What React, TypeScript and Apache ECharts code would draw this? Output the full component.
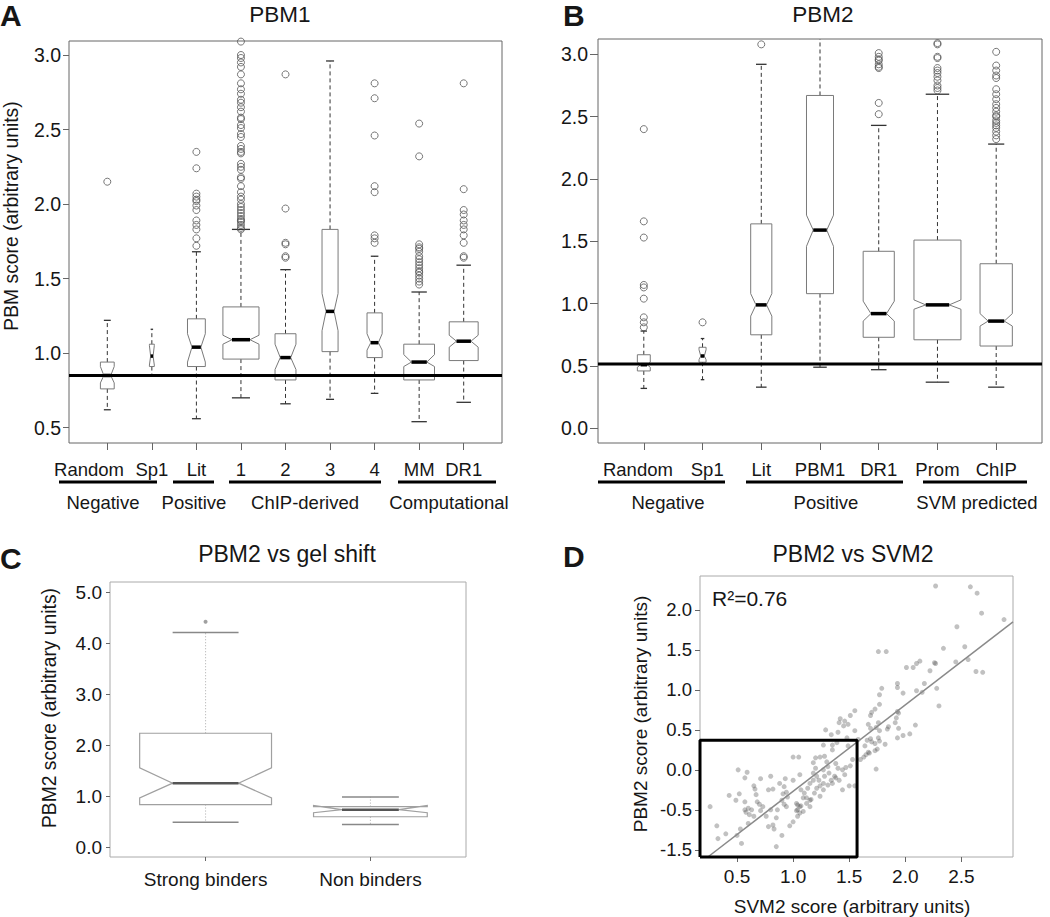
import React, { useEffect, useRef } from 'react';
import * as echarts from 'echarts';

const FONT = '"Liberation Sans", Arial, Helvetica, sans-serif';
const INK = '#161616';

// ---------- Panel A (PBM1) ----------
const catsA = ['Random', 'Sp1', 'Lit', '1', '2', '3', '4', 'MM', 'DR1'];
const labelPosA = [0.59, 2, 3, 4, 5, 6, 7, 8, 9];
const lowerA = [0.62, 0.85, 0.56, 0.70, 0.66, 0.69, 0.73, 0.54, 0.67];
const q1A = [0.76, 0.91, 0.91, 0.96, 0.82, 1.01, 0.97, 0.82, 0.95];
const notchLoA = [0.80, 0.92, 0.94, 1.06, 0.89, 1.15, 1.02, 0.91, 1.04];
const medA = [0.85, 0.98, 1.04, 1.09, 0.97, 1.28, 1.07, 0.94, 1.08];
const notchHiA = [0.91, 1.05, 1.13, 1.12, 1.06, 1.40, 1.13, 0.99, 1.12];
const q3A = [0.94, 1.06, 1.23, 1.31, 1.13, 1.83, 1.27, 1.06, 1.21];
const upperA = [1.22, 1.16, 1.68, 1.83, 1.56, 2.96, 1.65, 1.41, 1.59];
const boxWidthA = [0.31, 0.11, 0.40, 0.81, 0.47, 0.36, 0.34, 0.69, 0.65];
const outliersA = [
  [2.15],
  [],
  [2.35, 2.24, 2.07, 2.05, 2.03, 2.02, 1.99, 1.96, 1.89, 1.86, 1.83, 1.77, 1.72],
  [3.09, 3.0, 2.98, 2.95, 2.92, 2.87, 2.81, 2.77, 2.74, 2.7, 2.68, 2.65, 2.62, 2.58, 2.57, 2.53, 2.51, 2.47, 2.45, 2.39, 2.37, 2.35, 2.34, 2.27, 2.25, 2.23, 2.18, 2.17, 2.12, 2.08, 2.05, 2.03, 2.0, 1.98, 1.96, 1.94, 1.92, 1.9, 1.89, 1.88, 1.86, 1.84, 1.83],
  [2.87, 1.97, 1.74, 1.73, 1.65, 1.64],
  [],
  [2.81, 2.71, 2.46, 2.12, 2.08, 1.79, 1.77, 1.74],
  [2.54, 2.32, 1.73, 1.71, 1.7, 1.68, 1.65, 1.63, 1.61, 1.59, 1.57, 1.55, 1.54, 1.52, 1.5, 1.48, 1.46],
  [2.81, 2.1, 1.96, 1.93, 1.89, 1.86, 1.83, 1.79, 1.74, 1.65, 1.64],
];
const thresholdA = 0.85;
const yTicksA = [0.5, 1.0, 1.5, 2.0, 2.5, 3.0];

// ---------- Panel B (PBM2) ----------
const catsB = ['Random', 'Sp1', 'Lit', 'PBM1', 'DR1', 'Prom', 'ChIP'];
const labelPosB = [0.9, 2.08, 3, 4, 5, 6, 7];
const lowerB = [0.32, 0.39, 0.33, 0.49, 0.47, 0.37, 0.33];
const q1B = [0.46, 0.53, 0.75, 1.08, 0.73, 0.71, 0.66];
const notchLoB = [0.49, 0.55, 0.9, 1.46, 0.86, 0.955, 0.82];
const medB = [0.51, 0.58, 0.99, 1.59, 0.92, 0.99, 0.86];
const notchHiB = [0.53, 0.63, 1.08, 1.71, 1.02, 1.03, 0.92];
const q3B = [0.59, 0.65, 1.64, 2.67, 1.42, 1.51, 1.32];
const upperB = [0.78, 0.72, 2.92, 3.3, 2.43, 2.68, 2.28];
const boxWidthB = [0.22, 0.12, 0.36, 0.46, 0.53, 0.8, 0.55];
const outliersB = [
  [2.4, 1.66, 1.53, 1.15, 1.13, 1.04, 0.89, 0.85, 0.81],
  [0.85],
  [3.08],
  [],
  [3.01, 2.98, 2.96, 2.95, 2.92, 2.9, 2.89, 2.61, 2.52],
  [3.09, 3.08, 2.98, 2.97, 2.89, 2.87, 2.85, 2.82, 2.79, 2.75, 2.73, 2.71],
  [3.02, 2.91, 2.87, 2.83, 2.81, 2.72, 2.68, 2.64, 2.6, 2.57, 2.54, 2.51, 2.5, 2.47, 2.45, 2.43, 2.41, 2.38, 2.35, 2.32],
];
const thresholdB = 0.515;
const yTicksB = [0.0, 0.5, 1.0, 1.5, 2.0, 2.5, 3.0];

// ---------- Panel C (PBM2 vs gel shift) ----------
const catsC = ['Strong binders', 'Non binders'];
const labelPosC = [1, 2];
const lowerC = [0.49, 0.45];
const q1C = [0.84, 0.6];
const notchLoC = [0.97, 0.68];
const medC = [1.26, 0.74];
const notchHiC = [1.56, 0.82];
const q3C = [2.24, 0.8];
const upperC = [4.22, 0.99];
const boxWidthC = [0.8, 0.69];
const outliersC = [[4.43], []];
const yTicksC = [0, 1, 2, 3, 4, 5];

// ---------- Panel D (PBM2 vs SVM2) ----------
const svm2 = [
  2.27, 2.58, 2.64, 2.68, 2.88, 2.46, 2.34, 2.53, 1.76, 1.83, 2.01, 2.07, 2.10, 2.13, 2.26, 2.27, 2.22, 2.45, 2.56, 2.63,
  2.69, 2.30, 2.17, 2.28, 2.10, 2.15, 1.98, 1.93, 1.93, 1.79, 1.77, 1.77, 1.73, 1.70, 1.69, 1.93, 1.94, 1.92, 1.91, 2.09,
  1.85, 1.84, 1.94, 1.76, 1.74, 1.77, 1.67, 1.69, 1.55, 1.51, 1.46, 1.42, 1.41, 1.49, 1.45, 1.55, 1.58, 1.66, 1.69, 1.70,
  1.73, 1.76, 1.77, 1.93, 1.98, 2.04, 1.82, 1.75, 1.73, 1.67, 1.64, 1.48, 1.49, 1.40, 1.39, 1.74, 1.60, 1.63, 1.65, 1.68,
  0.26, 0.32, 0.33, 0.40, 0.50, 0.54, 0.53, 0.60, 0.51, 0.59, 0.57, 0.65, 0.66, 0.43, 0.52, 0.49, 0.57, 0.60, 0.63, 0.61,
  0.57, 0.58, 0.67, 0.68, 0.70, 0.73, 0.71, 0.65, 0.71, 0.76, 0.78, 0.78, 0.80, 0.82, 0.88, 0.92, 0.93, 0.94, 0.91, 0.95,
  0.86, 0.85, 0.82, 0.83, 0.85, 0.90, 1.00, 1.00, 1.05, 1.06, 1.07, 1.09, 1.03, 1.04, 1.06, 1.07, 1.03, 1.09, 1.04, 1.00,
  0.97, 1.12, 1.15, 1.16, 1.18, 1.20, 1.23, 1.21, 1.19, 1.24, 1.27, 1.28, 1.18, 1.20, 1.24, 1.28, 1.30, 1.31, 1.27, 1.27,
  1.29, 1.34, 1.35, 1.38, 1.40, 1.32, 1.34, 1.35, 1.38, 1.41, 1.44, 1.46, 1.47, 1.51, 1.53, 1.44, 1.50, 1.55, 1.35, 1.31,
  1.24, 1.21, 1.18, 1.15, 1.13, 1.10, 1.12, 1.37, 1.27, 1.06, 1.04, 1.15, 0.80, 0.90, 0.92, 0.94,
];
const pbm2 = [
  2.30, 2.29, 2.21, 1.96, 1.88, 1.79, 1.52, 1.54, 1.48, 1.48, 1.28, 1.28, 1.33, 1.36, 1.34, 1.33, 1.24, 1.35, 1.38, 1.23,
  1.22, 0.80, 1.08, 1.02, 0.99, 0.97, 0.96, 1.08, 1.03, 1.02, 0.94, 0.82, 0.76, 0.72, 0.68, 0.73, 0.71, 0.65, 0.59, 0.56,
  0.54, 0.51, 0.52, 0.59, 0.53, 0.49, 0.57, 0.52, 0.74, 0.68, 0.61, 0.64, 0.59, 0.57, 0.55, 0.49, 0.38, 0.37, 0.39, 0.35,
  0.33, 0.40, 0.36, 0.40, 0.43, 0.45, 0.32, 0.26, 0.24, 0.22, 0.30, 0.40, 0.30, 0.47, 0.34, 0.01, 0.13, 0.16, 0.19, 0.21,
  -0.46, -0.70, -0.86, -0.80, -0.82, -0.92, -0.74, -0.67, 0.00, -0.03, -0.10, -0.20, -0.24, -0.32, -0.30, -0.38, -0.40, -0.48, -0.50, -0.56,
  -0.50, -0.53, -0.31, -0.40, -0.43, -0.46, -0.51, -0.58, -0.11, -0.58, -0.71, -0.25, -0.08, -0.24, -0.17, -0.21, -0.11, -0.28, -0.30, -0.34,
  -0.50, -0.60, -0.69, -0.74, -0.96, -0.82, -0.13, 0.16, 0.16, -0.06, -0.25, -0.35, -0.42, -0.44, -0.46, -0.45, -0.51, -0.52, -0.58, -0.65,
  -0.70, -0.42, -0.38, -0.37, -0.04, 0.02, -0.13, -0.23, -0.29, -0.33, -0.17, -0.08, 0.09, 0.15, 0.16, 0.17, 0.10, 0.04, 0.00, 0.31,
  0.50, 0.44, 0.25, 0.08, 0.02, -0.04, -0.13, -0.17, -0.10, -0.13, 0.00, -0.06, 0.03, 0.05, 0.13, -0.25, -0.20, -0.20, 0.31, -0.19,
  -0.20, -0.08, -0.13, -0.17, -0.23, -0.29, -0.35, -0.08, -0.25, -0.54, -0.50, -0.46, -0.50, -0.38, -0.43, -0.46,
];
const regLineX = [0.24, 2.96];
const regLineY = [-1.09, 1.85];
const zoomBoxX = [0.17, 1.57];
const zoomBoxY = [-1.09, 0.37];
const xTicksD = [0.5, 1.0, 1.5, 2.0, 2.5];
const yTicksD = [-1.0, -0.5, 0.0, 0.5, 1.0, 1.5, 2.0];
const yTickLabelsD = ['-1.5', '-0.5', '0.0', '0.5', '1.0', '1.5', '2.0'];

// ---------- layout ----------
const G = {
  A: { left: 69, top: 41, width: 433, height: 402, xmin: 0.14, xmax: 9.86, ymin: 0.397, ymax: 3.094 },
  B: { left: 598, top: 39, width: 444, height: 404, xmin: 0.22, xmax: 7.78, ymin: -0.118, ymax: 3.123 },
  C: { left: 110, top: 582, width: 356, height: 275, xmin: 0.42, xmax: 2.58, ymin: -0.19, ymax: 5.21 },
  D: { left: 700, top: 576, width: 313, height: 281, xmin: 0.17, xmax: 2.96, ymin: -1.09, ymax: 2.425 },
};

const styleAB = {
  box: '#7a7a7a', boxWidth: 1, median: '#000', medianWidth: 3.5,
  whisker: '#333', whiskerWidth: 1, dash: [4, 3], cap: '#333', capWidth: 1.3,
};
const styleC = {
  box: '#a0a0a0', boxWidth: 1.2, median: '#555', medianWidth: 2.5,
  whisker: '#aaa', whiskerWidth: 1, dash: [1, 2], cap: '#888', capWidth: 1.5,
};

function boxRender(sty: any) {
  return (params: any, api: any) => {
    const x = api.value(0);
    const lo = api.value(1), q1 = api.value(2), nlo = api.value(3), med = api.value(4);
    const nhi = api.value(5), q3 = api.value(6), hi = api.value(7), w = api.value(8);
    const Y = (v: number) => api.coord([x, v])[1];
    const xl = api.coord([x - w / 2, q1])[0];
    const xr = api.coord([x + w / 2, q1])[0];
    const xc = (xl + xr) / 2;
    const nw = (xr - xl) / 4;
    const cap = (xr - xl) / 4;
    const pts = [
      [xl, Y(q1)], [xl, Y(nlo)], [xl + nw, Y(med)], [xl, Y(nhi)], [xl, Y(q3)],
      [xr, Y(q3)], [xr, Y(nhi)], [xr - nw, Y(med)], [xr, Y(nlo)], [xr, Y(q1)],
    ];
    const wStyle = { stroke: sty.whisker, lineWidth: sty.whiskerWidth, lineDash: sty.dash, fill: null };
    const cStyle = { stroke: sty.cap, lineWidth: sty.capWidth, fill: null };
    return {
      type: 'group',
      children: [
        { type: 'line', shape: { x1: xc, y1: Y(q3), x2: xc, y2: Y(hi) }, style: wStyle },
        { type: 'line', shape: { x1: xc, y1: Y(q1), x2: xc, y2: Y(lo) }, style: wStyle },
        { type: 'line', shape: { x1: xc - cap, y1: Y(hi), x2: xc + cap, y2: Y(hi) }, style: cStyle },
        { type: 'line', shape: { x1: xc - cap, y1: Y(lo), x2: xc + cap, y2: Y(lo) }, style: cStyle },
        { type: 'polygon', shape: { points: pts }, style: { fill: 'none', stroke: sty.box, lineWidth: sty.boxWidth } },
        { type: 'line', shape: { x1: xl + nw, y1: Y(med), x2: xr - nw, y2: Y(med) }, style: { stroke: sty.median, lineWidth: sty.medianWidth } },
      ],
    };
  };
}

function boxSeries(idx: number, cats: string[], lo: number[], q1: number[], nlo: number[], med: number[], nhi: number[], q3: number[], hi: number[], w: number[], sty: any) {
  return {
    type: 'custom',
    xAxisIndex: idx,
    yAxisIndex: idx,
    clip: true,
    z: 3,
    encode: { x: 0, y: 4 },
    data: cats.map((_, i) => [i + 1, lo[i], q1[i], nlo[i], med[i], nhi[i], q3[i], hi[i], w[i]]),
    renderItem: boxRender(sty),
  };
}

function outlierSeries(idx: number, outs: number[][], filled: boolean) {
  const data: number[][] = [];
  outs.forEach((vals, i) => vals.forEach((v) => data.push([i + 1, v])));
  return {
    type: 'scatter',
    xAxisIndex: idx,
    yAxisIndex: idx,
    symbol: 'circle',
    symbolSize: filled ? 4 : 7,
    z: 4,
    itemStyle: filled
      ? { color: '#888' }
      : { color: 'rgba(0,0,0,0)', borderColor: '#555', borderWidth: 1 },
    data,
  };
}

function catXAxis(idx: number, g: any, cats: string[], labelPos: number[], fontSize: number, margin: number, tickLen: number) {
  const ticks = cats.map((_, i) => i + 1);
  return {
    type: 'value', gridIndex: idx, min: g.xmin, max: g.xmax,
    axisLine: { show: false, onZero: false }, splitLine: { show: false },
    axisTick: { show: true, customValues: ticks, length: tickLen, lineStyle: { color: '#666' } },
    axisLabel: {
      customValues: labelPos, margin, fontSize, fontFamily: FONT, color: INK, lineHeight: fontSize + 1,
      showMinLabel: true, showMaxLabel: true, hideOverlap: false, interval: 0,
      formatter: (v: number) => {
        let best = 0;
        labelPos.forEach((p, k) => { if (Math.abs(p - v) < Math.abs(labelPos[best] - v)) best = k; });
        return cats[best];
      },
    },
  };
}

function valYAxis(idx: number, g: any, ticks: number[], fontSize: number, margin: number, tickLen: number, labels?: string[]) {
  return {
    type: 'value', gridIndex: idx, min: g.ymin, max: g.ymax,
    axisLine: { show: false, onZero: false }, splitLine: { show: false },
    axisTick: { show: true, customValues: ticks, length: tickLen, lineStyle: { color: '#666' } },
    axisLabel: {
      customValues: ticks, margin, fontSize, fontFamily: FONT, color: INK,
      showMinLabel: true, showMaxLabel: true,
      formatter: (v: number) => {
        if (labels) {
          const k = ticks.findIndex((t) => Math.abs(t - v) < 1e-6);
          return k >= 0 ? labels[k] : '';
        }
        return v.toFixed(1);
      },
    },
  };
}

function txt(text: string, x: number, y: number, size: number, opts: any = {}) {
  return {
    type: 'text', x, y, rotation: opts.rotation || 0, z: 20,
    style: {
      text, fill: INK,
      fontSize: size, fontFamily: FONT, fontWeight: opts.bold ? 'bold' : 'normal',
      align: opts.align || 'center', verticalAlign: 'middle',
    },
  };
}
function hline(x1: number, x2: number, y: number) {
  return { type: 'line', z: 20, shape: { x1, y1: y, x2, y2: y }, style: { stroke: '#000', lineWidth: 3 } };
}

const groupsA = [
  { label: 'Negative', x1: 59, x2: 157, cx: 103 },
  { label: 'Positive', x1: 173, x2: 214, cx: 194 },
  { label: 'ChIP-derived', x1: 229, x2: 381, cx: 305 },
  { label: 'Computational', x1: 398, x2: 496, cx: 449 },
];
const groupsB = [
  { label: 'Negative', x1: 598, x2: 725, cx: 668 },
  { label: 'Positive', x1: 746, x2: 903, cx: 826 },
  { label: 'SVM predicted', x1: 923, x2: 1027, cx: 977 },
];

function buildOption() {
  const gridOf = (g: any) => ({
    left: g.left, top: g.top, width: g.width, height: g.height,
    show: true, borderColor: '#666', borderWidth: 1, backgroundColor: 'transparent', containLabel: false,
  });
  const grids = [gridOf(G.A), gridOf(G.B), { ...gridOf(G.C), borderColor: '#aaa' }, { ...gridOf(G.D), borderColor: '#aaa' }];

  const xA = catXAxis(0, G.A, catsA, labelPosA, 18.5, 17, 7);
  const xB = catXAxis(1, G.B, catsB, labelPosB, 18.5, 17, 7);
  const xC = catXAxis(2, G.C, catsC, labelPosC, 19, 12, 4);
  const xD = {
    type: 'value', gridIndex: 3, min: G.D.xmin, max: G.D.xmax,
    axisLine: { show: false, onZero: false }, splitLine: { show: false },
    axisTick: { show: true, customValues: xTicksD, length: 5, lineStyle: { color: '#666' } },
    axisLabel: { customValues: xTicksD, margin: 10, fontSize: 19, fontFamily: FONT, color: INK, formatter: (v: number) => v.toFixed(1) },
  };

  const yA = valYAxis(0, G.A, yTicksA, 19.5, 8, 6);
  const yB = valYAxis(1, G.B, yTicksB, 19.5, 10, 8);
  const yC = valYAxis(2, G.C, yTicksC, 19, 8, 4);
  const yD = valYAxis(3, G.D, yTicksD, 18.5, 8, 5, yTickLabelsD);

  const threshLine = (idx: number, g: any, v: number) => ({
    type: 'line', xAxisIndex: idx, yAxisIndex: idx, symbol: 'none', z: 6, silent: true,
    lineStyle: { color: '#000', width: 3 },
    data: [[g.xmin, v], [g.xmax, v]],
  });

  const series: any[] = [
    boxSeries(0, catsA, lowerA, q1A, notchLoA, medA, notchHiA, q3A, upperA, boxWidthA, styleAB),
    outlierSeries(0, outliersA, false),
    threshLine(0, G.A, thresholdA),
    boxSeries(1, catsB, lowerB, q1B, notchLoB, medB, notchHiB, q3B, upperB, boxWidthB, styleAB),
    outlierSeries(1, outliersB, false),
    threshLine(1, G.B, thresholdB),
    boxSeries(2, catsC, lowerC, q1C, notchLoC, medC, notchHiC, q3C, upperC, boxWidthC, styleC),
    outlierSeries(2, outliersC, true),
    {
      type: 'scatter', xAxisIndex: 3, yAxisIndex: 3, symbol: 'circle', symbolSize: 5, z: 3,
      itemStyle: { color: 'rgba(70,70,70,0.42)' },
      data: svm2.map((x, i) => [x, pbm2[i]]),
    },
    {
      type: 'line', xAxisIndex: 3, yAxisIndex: 3, symbol: 'none', z: 4, silent: true,
      lineStyle: { color: '#8a8a8a', width: 1.5 },
      data: regLineX.map((x, i) => [x, regLineY[i]]),
    },
    {
      type: 'line', xAxisIndex: 3, yAxisIndex: 3, symbol: 'none', z: 5, silent: true, clip: false,
      lineStyle: { color: '#000', width: 3 },
      data: [
        [zoomBoxX[0], zoomBoxY[0]], [zoomBoxX[0], zoomBoxY[1]], [zoomBoxX[1], zoomBoxY[1]],
        [zoomBoxX[1], zoomBoxY[0]], [zoomBoxX[0], zoomBoxY[0]],
      ],
    },
  ];

  const graphic: any[] = [
    txt('A', 0, 15, 30, { bold: true, align: 'left' }),
    txt('PBM1', 280, 14, 22.5),
    txt('B', 563, 15, 30, { bold: true, align: 'left' }),
    txt('PBM2', 823, 14, 22.5),
    txt('C', 0, 558, 30, { bold: true, align: 'left' }),
    txt('PBM2 vs gel shift', 287, 554, 23),
    txt('D', 563, 556, 30, { bold: true, align: 'left' }),
    txt('PBM2 vs SVM2', 853, 554, 23),
    txt('PBM score (arbitrary units)', 11, 216, 19.3, { rotation: Math.PI / 2 }),
    txt('PBM2 score (arbitrary units)', 49, 708, 19.3, { rotation: Math.PI / 2 }),
    txt('PBM2 score (arbitrary units)', 640, 714, 19, { rotation: Math.PI / 2 }),
    txt('SVM2 score (arbitrary units)', 852, 906, 19),
    txt('R\u00b2=0.76', 712, 598, 21, { align: 'left' }),
  ];
  groupsA.forEach((g) => { graphic.push(hline(g.x1, g.x2, 482)); graphic.push(txt(g.label, g.cx, 502, 18.5)); });
  groupsB.forEach((g) => { graphic.push(hline(g.x1, g.x2, 482)); graphic.push(txt(g.label, g.cx, 502, 18.5)); });

  return {
    animation: false,
    backgroundColor: '#fff',
    textStyle: { fontFamily: FONT },
    grid: grids,
    xAxis: [xA, xB, xC, xD],
    yAxis: [yA, yB, yC, yD],
    series,
    graphic,
  };
}

export default function App() {
  const ref = useRef<HTMLDivElement>(null);
  useEffect(() => {
    if (!ref.current) return;
    const chart = echarts.init(ref.current, null, { renderer: 'svg' });
    chart.setOption(buildOption() as any);
    return () => chart.dispose();
  }, []);
  return <div ref={ref} style={{ position: 'absolute', left: 0, top: 0, width: 1050, height: 917, background: '#fff' }} />;
}
